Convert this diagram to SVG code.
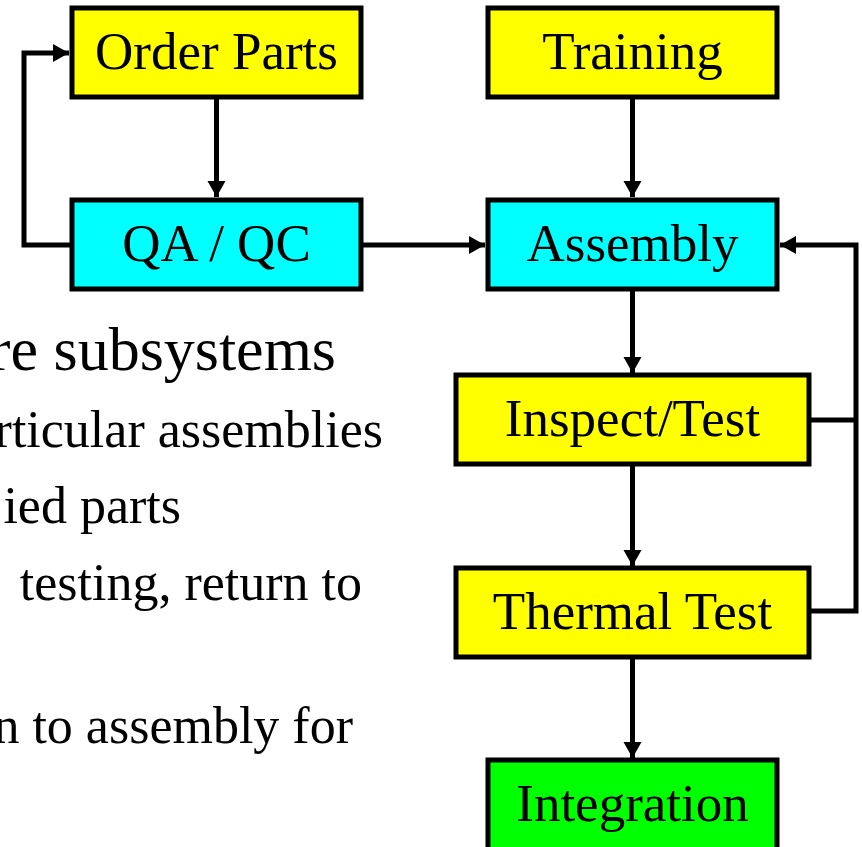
<svg xmlns="http://www.w3.org/2000/svg" width="862" height="847" viewBox="0 0 862 847">
  <style>
    .box { stroke: #000; stroke-width: 5; }
    .yellow { fill: #ffff00; }
    .cyan { fill: #00ffff; }
    .green { fill: #00ff00; }
    .label { font-family: "Liberation Serif", "Times New Roman", serif; font-size: 53px; fill: #000; text-anchor: middle; }
    .body { font-family: "Liberation Serif", "Times New Roman", serif; fill: #000; text-anchor: end; }
    .lvl1 { font-size: 62px; }
    .lvl2 { font-size: 52px; }
    .wire { fill: none; stroke: #000; stroke-width: 5; }
  </style>
  <defs>
    <marker id="arrow" viewBox="0 0 16 18" refX="16" refY="9" markerWidth="16" markerHeight="18" markerUnits="userSpaceOnUse" orient="auto" overflow="visible">
      <path d="M0,0 L16,9 L0,18 Z" fill="#000"/>
    </marker>
  </defs>
  <rect width="862" height="847" fill="#fff"/>

  <!-- bullet text, running off the left edge -->
  <g id="bullets">
    <text class="body lvl1" x="336" y="370">re subsystems</text>
    <text class="body lvl2" x="383" y="447">rticular assemblies</text>
    <text class="body lvl2" x="181" y="523">ied parts</text>
    <text class="body lvl2" x="362" y="600">testing, return to</text>
    <text class="body lvl2" x="353" y="743">n to assembly for</text>
  </g>

  <!-- connectors; arrowheads come from the shared marker -->
  <g id="connectors">
    <line class="wire" x1="216.5" y1="99" x2="216.5" y2="197" marker-end="url(#arrow)"/>
    <polyline class="wire" points="70,245 24,245 24,53 69,53" marker-end="url(#arrow)"/>
    <line class="wire" x1="363" y1="245" x2="485" y2="245" marker-end="url(#arrow)"/>
    <line class="wire" x1="632.5" y1="99" x2="632.5" y2="197" marker-end="url(#arrow)"/>
    <line class="wire" x1="632.5" y1="291" x2="632.5" y2="373" marker-end="url(#arrow)"/>
    <line class="wire" x1="632.5" y1="466" x2="632.5" y2="566" marker-end="url(#arrow)"/>
    <line class="wire" x1="632.5" y1="659" x2="632.5" y2="758" marker-end="url(#arrow)"/>
    <polyline class="wire" points="811,611 856,611 856,245 780,245" marker-end="url(#arrow)"/>
    <line class="wire" x1="811" y1="420" x2="856" y2="420"/>
  </g>

  <g id="order-parts">
    <rect class="box yellow" x="72" y="8" width="289" height="89"/>
    <text class="label" x="216.5" y="69">Order Parts</text>
  </g>
  <g id="qa-qc">
    <rect class="box cyan" x="72" y="200" width="289" height="89"/>
    <text class="label" x="216.5" y="261">QA / QC</text>
  </g>
  <g id="training">
    <rect class="box yellow" x="488" y="8" width="289" height="89"/>
    <text class="label" x="632.5" y="69">Training</text>
  </g>
  <g id="assembly">
    <rect class="box cyan" x="488" y="200" width="289" height="89"/>
    <text class="label" x="632.5" y="261">Assembly</text>
  </g>
  <g id="inspect-test">
    <rect class="box yellow" x="456" y="375" width="353" height="89"/>
    <text class="label" x="632.5" y="436">Inspect/Test</text>
  </g>
  <g id="thermal-test">
    <rect class="box yellow" x="456" y="568" width="353" height="89"/>
    <text class="label" x="632.5" y="629">Thermal Test</text>
  </g>
  <g id="integration">
    <rect class="box green" x="488" y="760" width="289" height="100"/>
    <text class="label" x="632.5" y="821">Integration</text>
  </g>
</svg>
